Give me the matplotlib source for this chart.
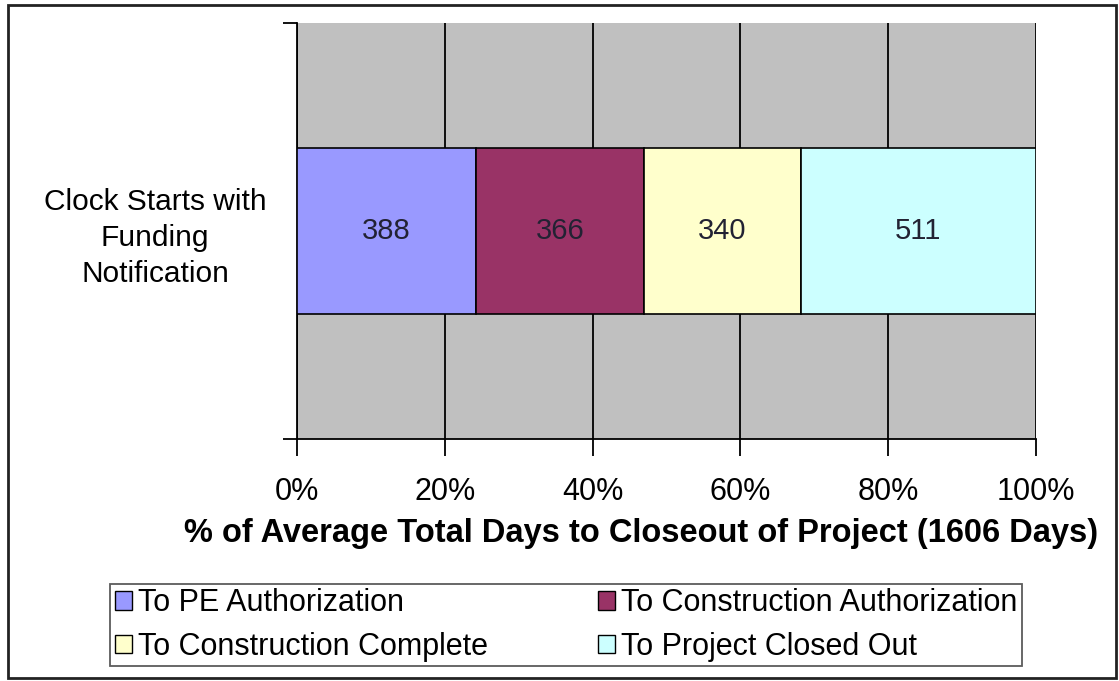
import numpy as np
import matplotlib.pyplot as plt
from matplotlib.patches import Rectangle

plt.rcParams['font.family'] = ['Liberation Sans', 'DejaVu Sans']

category = "Clock Starts with\nFunding\nNotification"
phases = ["To PE Authorization", "To Construction Authorization",
          "To Construction Complete", "To Project Closed Out"]
days = [388, 366, 340, 511]
colors = ['#9999FF', '#993366', '#FFFFCC', '#CCFFFF']
xticks = [0, 20, 40, 60, 80, 100]

pct = np.array(days) / sum(days) * 100
left = np.concatenate([[0], np.cumsum(pct)[:-1]])

fig = plt.figure(figsize=(11.19, 6.81), dpi=100)
ax = fig.add_axes([297/1119, 1 - 439/681, 739/1119, 416/681])
ax.set_facecolor('#C0C0C0')

# outer chart frame
fig.patches.append(Rectangle((8/1119, 3/681), 1108/1119, 673/681,
                             transform=fig.transFigure, fill=False,
                             edgecolor='#222222', linewidth=2))

for i in range(len(days)):
    ax.barh(0, pct[i], left=left[i], height=0.4, color=colors[i],
            edgecolor='black', linewidth=1.2, label=phases[i], zorder=3)
    ax.text(left[i] + pct[i] / 2, 0, str(days[i]), ha='center', va='center',
            fontsize=21, color='#222233', zorder=4)

ax.set_xlim(0, 100)
ax.set_ylim(-0.5, 0.5)
ax.set_xticks(xticks, labels=[f"{t}%" for t in xticks])
ax.tick_params(axis='x', length=12, width=1.3, pad=15, labelsize=22)
ax.grid(axis='x', color='black', linewidth=1.3, zorder=1)

ax.set_yticks([-0.5, 0.5], labels=['', ''])
ax.tick_params(axis='y', which='major', length=10, width=1.3)
ax.set_yticks([0], labels=[category], minor=True)
ax.tick_params(axis='y', which='minor', length=0, pad=22, labelsize=21.5)
for lbl in ax.get_yticklabels(minor=True):
    lbl.set_multialignment('center')
    lbl.set_linespacing(1.35)

for s in ['top', 'right']:
    ax.spines[s].set_visible(False)
for s in ['left', 'bottom']:
    ax.spines[s].set_linewidth(1.3)

ax.set_xlabel("% of Average Total Days to Closeout of Project (1606 Days)",
              fontsize=23.5, fontweight='bold')
ax.xaxis.set_label_coords(0.466, -0.19)

# legend filled row by row
handles, labels = ax.get_legend_handles_labels()
order = [0, 2, 1, 3]
leg = ax.legend([handles[k] for k in order], [labels[k] for k in order],
                ncol=2, loc='center', bbox_to_anchor=(566/1119, 1 - 625/681),
                bbox_transform=fig.transFigure, fontsize=22, frameon=True,
                fancybox=False, edgecolor='#333333', handlelength=0.55,
                handleheight=0.55, handletextpad=0.2, columnspacing=3.6,
                labelspacing=0.45, borderpad=0.15, borderaxespad=0)
leg.get_frame().set_linewidth(1.3)
for h in leg.legend_handles:
    h.set_edgecolor('black')
    h.set_linewidth(1)

fig.savefig('out.png', dpi=100)
